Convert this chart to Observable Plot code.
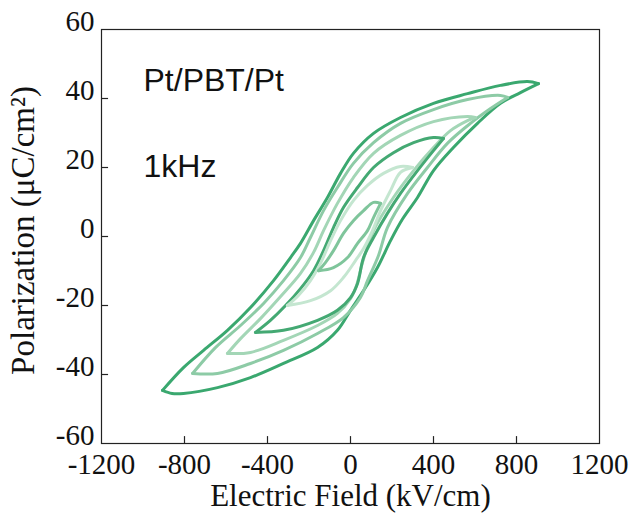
<!DOCTYPE html>
<html>
<head>
<meta charset="utf-8">
<script src="https://cdn.jsdelivr.net/npm/d3@7"></script>
<script src="https://cdn.jsdelivr.net/npm/@observablehq/plot@0.6"></script>
<style>
  html, body { margin: 0; padding: 0; background: #ffffff; }
  #chart { width: 644px; height: 513px; }
</style>
</head>
<body>
<div id="chart"></div>
<script>
// Tick values
const xTicks = [-1200, -800, -400, 0, 400, 800, 1200];
const yTicks = [-60, -40, -20, 0, 20, 40, 60];

// Loop labels (maximum applied field, kV/cm) and colours
const loopNames = ["900", "750", "600", "450", "300", "150"];
const loopColors = ["#3aa86f", "#8dcba6", "#a3d6b6", "#44a973", "#c4e6d0", "#7fc59b"];

// Each loop: upper branch (field decreasing from +Emax) and lower branch (field increasing from -Emax), [E (kV/cm), P (µC/cm²)]
const loop900Upper = [[906,44.3],[853,44.9],[723,43.8],[564,41.4],[400,38.6],[241,34.5],[111,29.9],[14,24.1],[-48,18.3],[-111,11.3],[-178,4.6],[-241,-2.0],[-289,-6.1],[-371,-12.8],[-482,-20.6],[-593,-27.2],[-708,-33.0],[-805,-38.0],[-906,-44.6]];
const loop900Lower = [[-906,-44.6],[-860,-45.5],[-805,-45.5],[-641,-43.8],[-482,-40.9],[-323,-36.8],[-159,-32.2],[-63,-27.2],[0,-21.4],[63,-15.7],[130,-9.0],[193,-1.2],[250,5.0],[323,11.3],[400,19.1],[496,25.8],[612,32.8],[723,38.6],[819,41.7],[906,44.3]];

const loop750Upper = [[757,40.3],[723,40.9],[564,39.7],[400,36.8],[241,32.8],[111,27.2],[14,21.2],[-63,14.2],[-130,7.5],[-193,-0.3],[-241,-6.1],[-323,-12.8],[-419,-19.4],[-530,-25.8],[-651,-32.2],[-761,-39.7]];
const loop750Lower = [[-761,-39.7],[-641,-39.7],[-482,-36.8],[-323,-33.0],[-159,-28.1],[-34,-23.5],[48,-17.7],[82,-12.8],[135,-5.5],[178,2.6],[275,12.5],[371,20.0],[467,27.0],[578,32.8],[675,37.1],[757,40.3]];

const loop600Upper = [[602,34.5],[564,34.8],[400,33.3],[241,29.3],[111,24.1],[14,17.1],[-63,9.6],[-130,1.7],[-178,-4.6],[-241,-10.7],[-337,-17.4],[-434,-23.8],[-530,-29.6],[-593,-33.9]];
const loop600Lower = [[-593,-33.9],[-482,-33.6],[-323,-30.1],[-159,-25.8],[-63,-22.3],[0,-18.0],[29,-14.2],[58,-7.5],[111,1.7],[207,11.3],[304,19.1],[400,25.8],[482,30.7],[564,33.6],[602,34.5]];

const loop450Upper = [[448,28.4],[400,28.7],[304,27.2],[207,24.3],[111,20.0],[34,14.2],[-34,8.4],[-82,2.6],[-130,-4.1],[-178,-9.9],[-241,-15.1],[-313,-20.0],[-386,-24.3],[-458,-27.8]];
const loop450Lower = [[-458,-27.8],[-323,-27.2],[-159,-24.3],[-63,-21.4],[0,-17.7],[34,-13.6],[63,-6.1],[111,-0.3],[178,6.7],[241,12.5],[323,19.1],[400,24.9],[448,28.4]];

const loop300Upper = [[300,20.0],[241,20.3],[159,18.3],[82,14.8],[14,10.4],[-48,4.6],[-96,-1.2],[-145,-7.8],[-193,-12.8],[-251,-17.1],[-304,-20.0]];
const loop300Lower = [[-304,-20.0],[-193,-18.6],[-96,-15.7],[-34,-11.9],[24,-7.0],[63,-3.5],[106,1.7],[145,7.5],[193,13.3],[241,18.6],[300,20.0]];

const loop150Upper = [[145,9.6],[111,9.9],[63,7.5],[14,4.6],[-34,0.9],[-82,-4.1],[-120,-7.5],[-154,-9.9]];
const loop150Lower = [[-154,-9.9],[-82,-9.0],[-14,-6.1],[34,-2.0],[82,1.7],[111,5.5],[145,9.6]];

const branches = [
  ["900", "upper", loop900Upper], ["900", "lower", loop900Lower],
  ["750", "upper", loop750Upper], ["750", "lower", loop750Lower],
  ["600", "upper", loop600Upper], ["600", "lower", loop600Lower],
  ["450", "upper", loop450Upper], ["450", "lower", loop450Lower],
  ["300", "upper", loop300Upper], ["300", "lower", loop300Lower],
  ["150", "upper", loop150Upper], ["150", "lower", loop150Lower]
];
const rows = branches.flatMap(([loop, branch, pts]) =>
  pts.map(([E, P]) => ({loop, branch, key: loop + "-" + branch, E, P})));

const serif = "'Liberation Serif', 'Times New Roman', Times, serif";
const sans = "'Liberation Sans', Arial, Helvetica, sans-serif";

const chart = Plot.plot({
  width: 644,
  height: 513,
  marginLeft: 101,
  marginRight: 45,
  marginTop: 29,
  marginBottom: 70,
  style: {background: "#ffffff", fontFamily: serif, color: "#111"},
  x: {domain: [-1200, 1200]},
  y: {domain: [-60, 60]},
  color: {domain: loopNames, range: loopColors},
  marks: [
    Plot.frame({stroke: "#222", strokeWidth: 1.2}),
    Plot.ruleX(xTicks.slice(1, -1), {x: d => d, y1: -60, y2: -58, stroke: "#222", strokeWidth: 1.2}),
    Plot.ruleY(yTicks.slice(1, -1), {y: d => d, x1: -1200, x2: -1166, stroke: "#222", strokeWidth: 1.2}),
    Plot.axisX({ticks: xTicks, tickSize: 0, tickPadding: 10, tickFormat: d => String(d), fontSize: 29, fontFamily: serif, label: null}),
    Plot.axisY({ticks: yTicks, tickSize: 0, tickPadding: 7, dy: -8, tickFormat: d => String(d), fontSize: 29, fontFamily: serif, label: null}),
    Plot.line(rows, {x: "E", y: "P", z: "key", stroke: "loop", strokeWidth: 3, curve: "catmull-rom", strokeLinejoin: "round", strokeLinecap: "round"}),
    Plot.text(["Electric Field (kV/cm)"], {frameAnchor: "bottom", dy: 53, lineAnchor: "middle", fontSize: 31, fontFamily: serif, fill: "#111"}),
    Plot.text(["Polarization (μC/cm²)"], {frameAnchor: "left", dx: -78, dy: -6, rotate: -90, textAnchor: "middle", lineAnchor: "middle", fontSize: 33, fontFamily: serif, fill: "#111"}),
    Plot.text(["Pt/PBT/Pt"], {frameAnchor: "top-left", dx: 42, dy: 39, textAnchor: "start", lineAnchor: "top", fontSize: 32, fontFamily: sans, fill: "#111"}),
    Plot.text(["1kHz"], {frameAnchor: "top-left", dx: 42, dy: 125, textAnchor: "start", lineAnchor: "top", fontSize: 32, fontFamily: sans, fill: "#111"})
  ]
});
document.getElementById("chart").appendChild(chart);
</script>
</body>
</html>
